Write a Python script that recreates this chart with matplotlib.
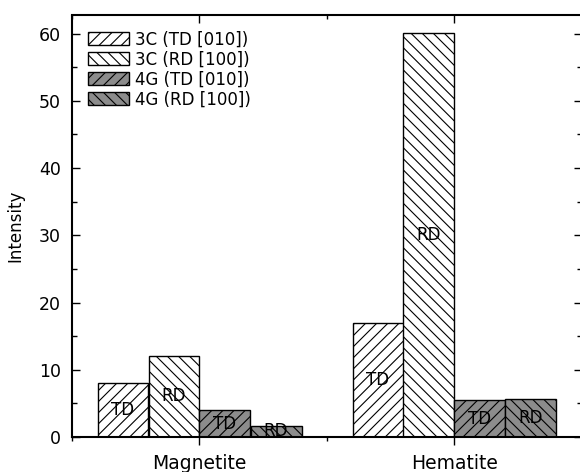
import numpy as np
import matplotlib
matplotlib.use('Agg')
import matplotlib.pyplot as plt
from matplotlib.ticker import MultipleLocator

# Dữ liệu
minerals = ['Magnetite', 'Hematite']
series = ['3C (TD [010])', '3C (RD [100])', '4G (TD [010])', '4G (RD [100])']
bar_text = ['TD', 'RD', 'TD', 'RD']
values = [
    [8.1, 17.0],   # 3C TD
    [12.1, 60.1],  # 3C RD
    [4.0, 5.5],    # 4G TD
    [1.7, 5.6],    # 4G RD
]

faces = ['white', 'white', '#8c8c8c', '#8c8c8c']
hatches = ['///', '\\\\\\', '///', '\\\\\\']

plt.rcParams['font.family'] = ['DejaVu Sans']
plt.rcParams['hatch.linewidth'] = 0.8

fig = plt.figure(figsize=(5.8, 4.72), dpi=100)
ax = fig.add_axes([72 / 580, 35 / 472, 510 / 580, 421.5 / 472])

x = np.arange(1, len(minerals) + 1)
w = 0.2
for i in range(len(series)):
    pos = x + (i - 1.5) * w
    ax.bar(pos, values[i], width=w, color=faces[i], edgecolor='black',
           hatch=hatches[i], linewidth=1.0, label=series[i])
    for px, v in zip(pos, values[i]):
        ax.text(px, v / 2, bar_text[i], ha='center', va='center', fontsize=12)

ax.set_xlim(0.5, 2.5)
ax.set_ylim(0, 62.7)
ax.set_xticks(x)
ax.set_xticklabels(minerals, fontsize=13.5)
ax.xaxis.set_minor_locator(MultipleLocator(0.5))
ax.yaxis.set_major_locator(MultipleLocator(10))
ax.yaxis.set_minor_locator(MultipleLocator(5))
ax.set_ylabel('Intensity', fontsize=12, labelpad=10)

ax.tick_params(axis='y', which='both', direction='in', left=True, right=True,
               labelsize=12.5, pad=8)
ax.tick_params(axis='y', which='major', length=6, width=1)
ax.tick_params(axis='y', which='minor', length=3.5, width=1)
ax.tick_params(axis='x', which='major', direction='out', length=6, width=1, pad=6)
ax.tick_params(axis='x', which='minor', direction='out', length=3, width=1)

top = ax.secondary_xaxis('top')
top.set_xticks(x)
top.xaxis.set_minor_locator(MultipleLocator(0.5))
top.tick_params(which='major', direction='in', length=6, width=1, labeltop=False)
top.tick_params(which='minor', direction='in', length=3, width=1)
top.spines['top'].set_linewidth(1.5)
ax.spines['top'].set_visible(False)

for s in ['left', 'bottom', 'right']:
    ax.spines[s].set_linewidth(1.5)

ax.legend(loc='upper left', frameon=False, fontsize=12, handlelength=2.5,
          handleheight=0.85, labelspacing=0.12, handletextpad=0.35,
          borderaxespad=0, borderpad=0, bbox_to_anchor=(0.031, 0.965))

fig.savefig('out.png', dpi=100)
